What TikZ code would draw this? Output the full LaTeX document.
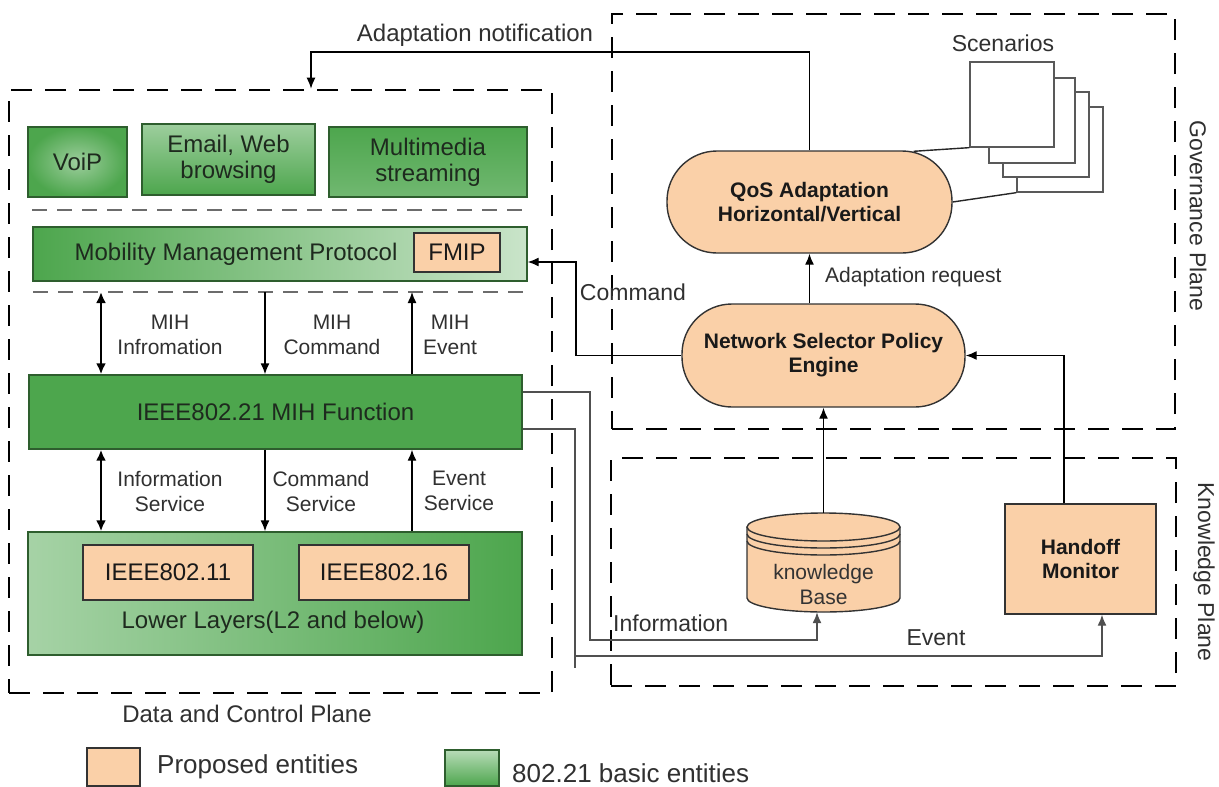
\documentclass[tikz,border=0pt]{standalone}
\usepackage{fontspec}
\setmainfont{Liberation Sans}
\usetikzlibrary{arrows.meta,calc}
\definecolor{peach}{HTML}{FAD0A8}
\definecolor{G}{HTML}{4DA64D}
\definecolor{Gline}{HTML}{2E5E2E}
\definecolor{txt}{HTML}{303030}
\definecolor{gtxt}{HTML}{1E2A1E}
\definecolor{lgray}{HTML}{505050}
\begin{document}
\begin{tikzpicture}[x=1pt,y=-1pt,
  plane/.style={draw=black, line width=2.6pt, dash pattern=on 21pt off 13pt, inner sep=0pt},
  sepline/.style={draw=gray!85!black, line width=2.4pt, dash pattern=on 15pt off 10pt},
  gbox/.style={draw=Gline, line width=1.4pt, inner sep=0pt, text=gtxt, font=\fontsize{24}{26}\selectfont, align=center},
  pbox/.style={draw=black!80, fill=peach, line width=1.4pt, inner sep=0pt, text=black!90, align=center},
  lbl/.style={text=txt, inner sep=0pt, align=center},
  f21/.style={font=\fontsize{21}{25}\selectfont},
  f23/.style={font=\fontsize{23}{26}\selectfont},
  f24/.style={font=\fontsize{24}{27}\selectfont},
  f26/.style={font=\fontsize{26}{29}\selectfont},
  bf21/.style={font=\fontsize{21}{24}\selectfont\bfseries},
  conn/.style={line width=1.4pt, draw=black},
  arr/.style={conn, -{Latex[length=11pt,width=9pt]}},
  dbl/.style={line width=2.8pt, {Latex[length=11pt,width=10pt]}-{Latex[length=11pt,width=10pt]}},
  pill/.style={pbox, rounded corners=50pt, font=\fontsize{21}{24}\selectfont\bfseries},
  page/.style={draw=gray!70!black, fill=white, line width=1.3pt, inner sep=0pt, minimum height=85pt},
  cyl/.style={line width=1.4pt, draw=black!80}
]
\useasboundingbox (0,0) rectangle (1219,787);
\fill[white] (0,0) rectangle (1219,787);

% planes
\node[plane, minimum width=543pt, minimum height=603pt] (dcp) at (280.5,391.5) {};
\node[plane, minimum width=563pt, minimum height=415pt] (gov) at (893.5,221.5) {};
\node[plane, minimum width=565pt, minimum height=228pt] (kp) at (893.5,572) {};

% application boxes
\node[gbox, inner color=G!55!white, outer color=G, minimum width=99pt, minimum height=70pt] (voip) at (77.5,162) {VoiP};
\node[gbox, top color=G!55!white, bottom color=G, minimum width=173pt, minimum height=71pt] (email) at (228.5,159.5) {Email, Web\\browsing};
\node[gbox, top color=G, bottom color=G!80!white, minimum width=198pt, minimum height=70pt] (mm) at (428,162) {Multimedia\\streaming};

\draw[sepline] (32,210) -- (527,210);

\node[gbox, left color=G, middle color=G!90!white, right color=G!30!white, minimum width=494pt, minimum height=54pt] (mmp) at (280,254) {};
\node[f24, text=gtxt, inner sep=0pt] (mmpt) at (236,254) {Mobility Management Protocol};
\node[pbox, f24, minimum width=86pt, minimum height=39pt] (fmip) at (457,252.5) {FMIP};

\draw[sepline] (33,292) -- (527,292);

\node[gbox, left color=G, middle color=G!72!white, right color=G, minimum width=493pt, minimum height=74pt] (mihf) at (275.5,412) {IEEE802.21 MIH Function};

\node[gbox, left color=G!50!white, middle color=G, right color=G, minimum width=494pt, minimum height=123pt] (ll) at (275,593.5) {};
\node[f24, text=gtxt, inner sep=0pt] (llt) at (273,622) {Lower Layers(L2 and below)};
\node[pbox, f24, minimum width=170pt, minimum height=55pt] (ie11) at (168,572.5) {IEEE802.11};
\node[pbox, f24, minimum width=170pt, minimum height=55pt] (ie16) at (384,572.5) {IEEE802.16};

% MIH arrows
\coordinate (s1) at (101,292);
\coordinate (s2) at (265,292);
\coordinate (s3) at (412,292);
\draw[dbl] (s1) -- (s1 |- mihf.north);
\draw[arr] (s2) -- (s2 |- mihf.north);
\draw[arr] (s3 |- mihf.north) -- (s3);
\draw[dbl] (s1 |- mihf.south) -- (s1 |- ll.north);
\draw[arr] (s2 |- mihf.south) -- (s2 |- ll.north);
\draw[arr] (s3 |- ll.north) -- (s3 |- mihf.south);

\node[lbl,f21] (l1) at (170,335) {MIH\\Infromation};
\node[lbl,f21] (l2) at (332,335) {MIH\\Command};
\node[lbl,f21] (l3) at (450,335) {MIH\\Event};
\node[lbl,f21] (l4) at (170,491) {Information\\Service};
\node[lbl,f21] (l5) at (321,491) {Command\\Service};
\node[lbl,f21] (l6) at (459,491) {Event\\Service};

% governance plane
\node[pill, minimum width=285pt, minimum height=102pt] (qos) at (809.5,202) {QoS Adaptation\\Horizontal/Vertical};
\node[pill, minimum width=283pt, minimum height=103pt] (nsp) at (823.5,355.5) {Network Selector Policy\\Engine};

\node[page, minimum width=86pt] (sc4) at (1060,149.5) {};
\node[page, minimum width=86pt] (sc3) at (1046,134.5) {};
\node[page, minimum width=86pt] (sc2) at (1032,120.5) {};
\node[page, minimum width=84pt] (sc1) at (1012,104.5) {};
\node[lbl,f23] (sct) at (1003,43) {Scenarios};
\draw[conn, draw=black!85] ($(qos.north east)+(-39,1)$) -- (sc1.south west);
\draw[conn, draw=black!85] (qos.east) -- (sc4.south west);

% knowledge plane
\node[inner sep=0pt, minimum width=153pt, minimum height=99pt] (kb) at (823.5,562.5) {};
\fill[peach] (747,527) -- (747,598) arc[start angle=180,end angle=0,x radius=76.5,y radius=14] -- (900,527) arc[start angle=0,end angle=-180,x radius=76.5,y radius=14] -- cycle;
\draw[cyl] (747,527) -- (747,598) arc[start angle=180,end angle=0,x radius=76.5,y radius=14] -- (900,527);
\draw[cyl] (823.5,527) ellipse[x radius=76.5,y radius=14];
\draw[cyl] (747,534) arc[start angle=180,end angle=0,x radius=76.5,y radius=14];
\draw[cyl] (747,541) arc[start angle=180,end angle=0,x radius=76.5,y radius=14];
\node[lbl, f21, text=black!80] (kbt) at (823.5,584) {knowledge\\Base};

\node[pbox, bf21, minimum width=151pt, minimum height=110pt] (ho) at (1080.5,559) {Handoff\\Monitor};

% connectors
\coordinate (notif) at (311,52);
\draw[arr] (qos.north) |- (notif) -- (notif |- dcp.north);
\node[lbl,f24] (notift) at (475,35) {Adaptation notification};

\draw[arr] (nsp.north -| qos.south) -- (qos.south);
\node[lbl,f21,anchor=west] (art) at (825,277) {Adaptation request};

\coordinate (cmd) at (576,262);
\draw[arr] (nsp.west) -| (cmd) -- (cmd -| mmp.east);
\node[lbl,f23] (cmdt) at (633,292) {Command};

\draw[arr] (kb.north) -- (nsp.south -| kb.north);
\coordinate (hox) at (1064,400);
\draw[arr] (hox |- ho.north) |- (nsp.east);

\coordinate (iA) at (590,392);
\coordinate (iB) at (817,640);
\draw[arr, draw=lgray] (mihf.east |- iA) -- (iA) |- (iB) -- (iB |- kb.south);
\node[lbl,f23,anchor=west] (inft) at (613,623) {Information};

\coordinate (eA) at (575,429);
\coordinate (eT) at (575,668);
\coordinate (eB) at (575,656);
\coordinate (eC) at (1102,656);
\draw[conn, draw=lgray] (mihf.east |- eA) -- (eA) -- (eT);
\draw[arr, draw=lgray] (eB) -- (eC) -- (eC |- ho.south);
\node[lbl,f23] (evt) at (936,638) {Event};

% plane titles
\node[lbl,f23,rotate=-90] (govt) at (1198,216) {Governance Plane};
\node[lbl,f23,rotate=-90] (kpt) at (1204,572) {Knowledge Plane};
\node[lbl,f24] (dcpt) at (247,714) {Data and Control Plane};

% legend
\node[pbox, minimum width=53pt, minimum height=38pt] (lg1) at (113.5,767) {};
\node[lbl,f26,anchor=west] (lg1t) at (157,767) {Proposed entities};
\node[gbox, top color=G!40!white, bottom color=G, minimum width=54pt, minimum height=36pt] (lg2) at (472,768) {};
\node[lbl,f26,anchor=west] (lg2t) at (512,773) {802.21 basic entities};
\end{tikzpicture}
\end{document}
